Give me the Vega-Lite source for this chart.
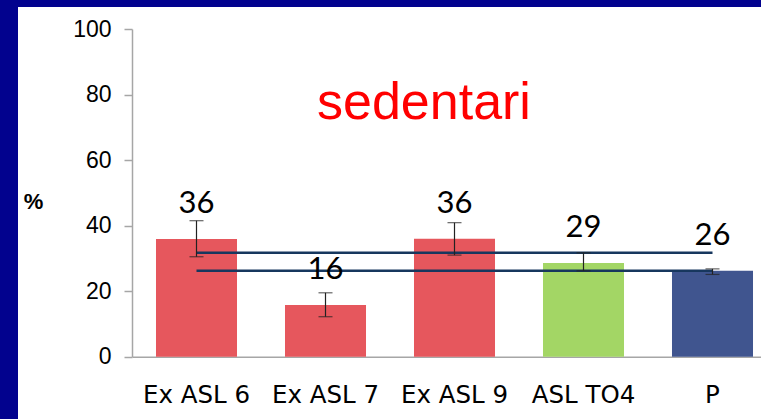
{
  "$schema": "https://vega.github.io/schema/vega-lite/v6.json",
  "width": 743,
  "height": 412,
  "autosize": {"type": "none"},
  "padding": {"left": 18, "top": 7, "right": 0, "bottom": 0},
  "background": "#02028e",
  "config": {"view": {"fill": "white", "stroke": null}},
  "title": {
    "text": "sedentari",
    "color": "#ff0000",
    "font": "Liberation Sans",
    "fontSize": 52,
    "fontWeight": "normal",
    "anchor": "start",
    "align": "left",
    "frame": "group",
    "baseline": "alphabetic",
    "offset": 0,
    "dx": 299,
    "dy": 164
  },
  "datasets": {
    "bars": [
      {"cat": "Ex ASL 6", "value": 35.9, "lo": 30.5, "hi": 41.5, "label": 36, "group": "ex"},
      {"cat": "Ex ASL 7", "value": 15.8, "lo": 12.2, "hi": 19.5, "label": 16, "group": "ex"},
      {"cat": "Ex ASL 9", "value": 36.0, "lo": 31.0, "hi": 40.9, "label": 36, "group": "ex"},
      {"cat": "ASL TO4", "value": 28.6, "lo": 26.2, "hi": 31.7, "label": 29, "group": "to4"},
      {"cat": "P", "value": 26.2, "lo": 25.1, "hi": 26.8, "label": 26, "group": "p"}
    ],
    "refs": [
      {"from": "Ex ASL 6", "to": "P", "level": 31.7},
      {"from": "Ex ASL 6", "to": "P", "level": 26.2}
    ]
  },
  "encoding": {
    "x": {
      "field": "cat",
      "type": "nominal",
      "sort": null,
      "scale": {
        "domain": ["Ex ASL 6", "Ex ASL 7", "Ex ASL 9", "ASL TO4", "P"],
        "range": [114, 759],
        "paddingInner": 0.372,
        "paddingOuter": 0.186
      },
      "axis": {
        "orient": "bottom",
        "offset": -62.3,
        "title": null,
        "labelAngle": 0,
        "labelFont": "DejaVu Sans",
        "labelFontSize": 24.5,
        "labelColor": "#000000",
        "labelBaseline": "alphabetic",
        "labelPadding": 46,
        "ticks": false,
        "tickSize": 0,
        "domainColor": "#a6a6a6",
        "domainWidth": 1.5,
        "grid": false
      }
    }
  },
  "layer": [
    {
      "data": {"name": "bars"},
      "mark": {"type": "bar", "opacity": 1},
      "encoding": {
        "y": {
          "field": "value",
          "type": "quantitative",
          "scale": {"domain": [0, 100], "range": [349.7, 22], "nice": false, "zero": true},
          "axis": {
            "orient": "left",
            "offset": -114,
            "values": [0, 20, 40, 60, 80, 100],
            "grid": false,
            "domainColor": "#a6a6a6",
            "domainWidth": 1.5,
            "tickColor": "#a6a6a6",
            "tickSize": 8,
            "tickWidth": 1.5,
            "labelFont": "Liberation Sans",
            "labelFontSize": 23,
            "labelColor": "#000000",
            "labelPadding": 13,
            "title": "%",
            "titleAngle": 0,
            "titleFont": "Liberation Sans",
            "titleFontSize": 22,
            "titleFontWeight": "bold",
            "titleColor": "#000000",
            "titleAlign": "center",
            "titleBaseline": "middle",
            "titleX": -99,
            "titleY": 194
          }
        },
        "color": {
          "field": "group",
          "type": "nominal",
          "scale": {"domain": ["ex", "to4", "p"], "range": ["#e6575d", "#a3d665", "#40558f"]},
          "legend": null
        }
      }
    },
    {
      "data": {"name": "refs"},
      "mark": {"type": "rule", "color": "#17375e", "strokeWidth": 2.5},
      "encoding": {
        "x": {"field": "from", "type": "nominal"},
        "x2": {"field": "to"},
        "y": {"field": "level", "type": "quantitative"}
      }
    },
    {
      "data": {"name": "bars"},
      "mark": {"type": "rule", "color": "#222222", "strokeWidth": 1.2},
      "encoding": {
        "y": {"field": "lo", "type": "quantitative"},
        "y2": {"field": "hi"}
      }
    },
    {
      "data": {"name": "bars"},
      "mark": {"type": "tick", "color": "#222222", "size": 14, "thickness": 1.2},
      "encoding": {"y": {"field": "lo", "type": "quantitative"}}
    },
    {
      "data": {"name": "bars"},
      "mark": {"type": "tick", "color": "#222222", "size": 14, "thickness": 1.2},
      "encoding": {"y": {"field": "hi", "type": "quantitative"}}
    },
    {
      "data": {"name": "bars"},
      "mark": {"type": "text", "font": "Lato", "fontSize": 31, "color": "#000000", "baseline": "alphabetic", "dy": -26},
      "encoding": {
        "y": {"field": "value", "type": "quantitative"},
        "text": {"field": "label", "type": "quantitative"}
      }
    }
  ],
  "resolve": {"scale": {"y": "shared"}}
}
